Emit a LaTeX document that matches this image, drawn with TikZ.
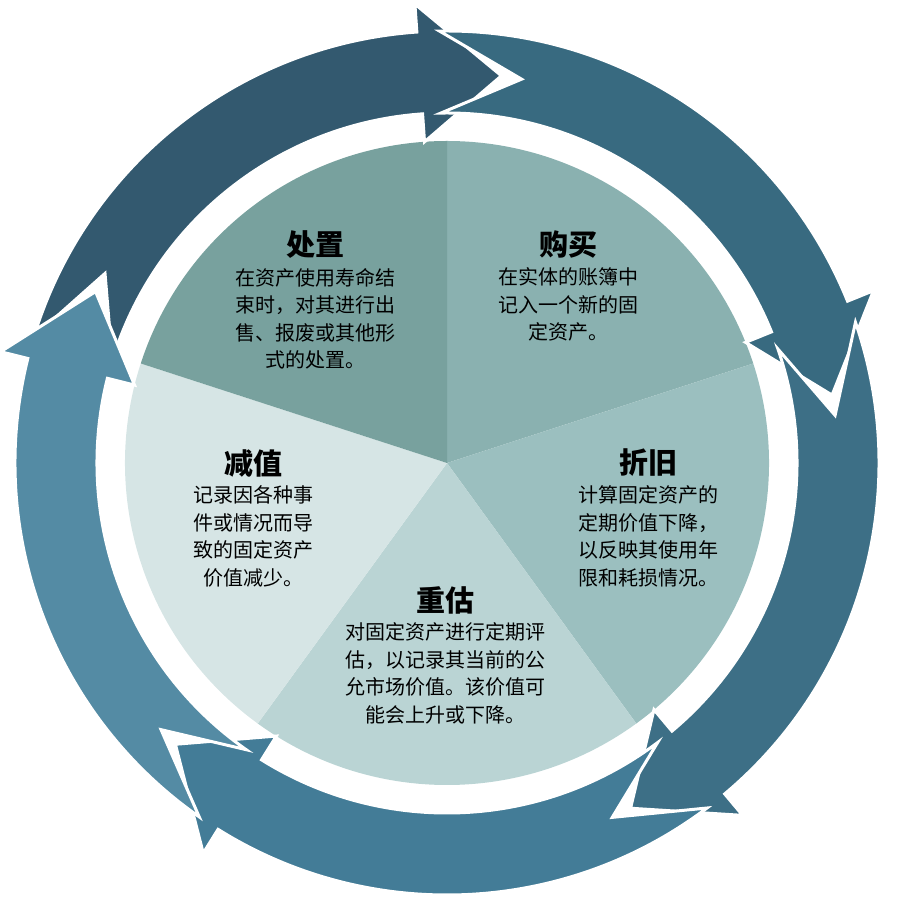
\documentclass[tikz,border=0pt]{standalone}
\usepackage{fontspec}
\usetikzlibrary{positioning}
\setmainfont{Noto Sans CJK SC}
\definecolor{secA}{HTML}{8AB1B0}
\definecolor{secB}{HTML}{9BBFBF}
\definecolor{secC}{HTML}{BAD4D4}
\definecolor{secD}{HTML}{D6E5E5}
\definecolor{secE}{HTML}{78A19E}
\definecolor{arrA}{HTML}{33596F}
\definecolor{arrB}{HTML}{386A80}
\definecolor{arrC}{HTML}{3D6F86}
\definecolor{arrD}{HTML}{437C97}
\definecolor{arrE}{HTML}{548BA4}
\tikzset{
  title/.style={font=\fontsize{29}{32}\selectfont\bfseries, text=black},
  body/.style={font=\fontsize{20}{27.5}\selectfont, align=center, text=black},
}
\begin{document}
\begin{tikzpicture}[x=1pt,y=1pt]
  \useasboundingbox (0,0) rectangle (908,911);
  % pie sectors
  \begin{scope}[shift={(447,448)}]
    \foreach \a/\b/\c in {18/90/secA, -54/18/secB, -126/-54/secC, 162/234/secD, 90/162/secE}
      \fill[\c] (0,0) -- (\a:322pt) arc[start angle=\a, end angle=\b, radius=322pt] -- cycle;
    % outer ring of arrows
    \def\rI{350}\def\rO{432}\def\rM{391}\def\d{28}\def\h{12}\def\g{3}
    \foreach \e/\c in {82/arrA, 10/arrB, -62/arrC, -134/arrD, -206/arrE} {
      \pgfmathsetmacro\s{\e+72+\h-\g}
      \pgfmathsetmacro\hb{\e+\h}
      \pgfmathsetmacro\n{\s-\h}
      \filldraw[\c, draw=white, line width=3pt, line join=miter]
        (\s:\rO pt) arc[start angle=\s, end angle=\hb, radius=\rO pt]
        -- (\hb:\rO pt+\d pt) -- (\e:\rM pt) -- (\hb:\rI pt-\d pt) -- (\hb:\rI pt)
        arc[start angle=\hb, end angle=\s, radius=\rI pt] -- (\n:\rM pt) -- cycle;
    }
  \end{scope}
  % labels
  \node[title] (buy) at (568,666) {购买};
  \node[body, below=2pt of buy] (buyt) {在实体的账簿中\\记入一个新的固\\定资产。};
  \node[title] (disp) at (315,666) {处置};
  \node[body, below=2pt of disp] (dispt) {在资产使用寿命结\\束时，对其进行出\\售、报废或其他形\\式的处置。};
  \node[title] (depr) at (648,448) {折旧};
  \node[body, below=2pt of depr] (deprt) {计算固定资产的\\定期价值下降，\\以反映其使用年\\限和耗损情况。};
  \node[title] (impr) at (253,448) {减值};
  \node[body, below=2pt of impr] (imprt) {记录因各种事\\件或情况而导\\致的固定资产\\价值减少。};
  \node[title] (reval) at (445,311) {重估};
  \node[body, below=2pt of reval] (revalt) {对固定资产进行定期评\\估，以记录其当前的公\\允市场价值。该价值可\\能会上升或下降。};
\end{tikzpicture}
\end{document}
